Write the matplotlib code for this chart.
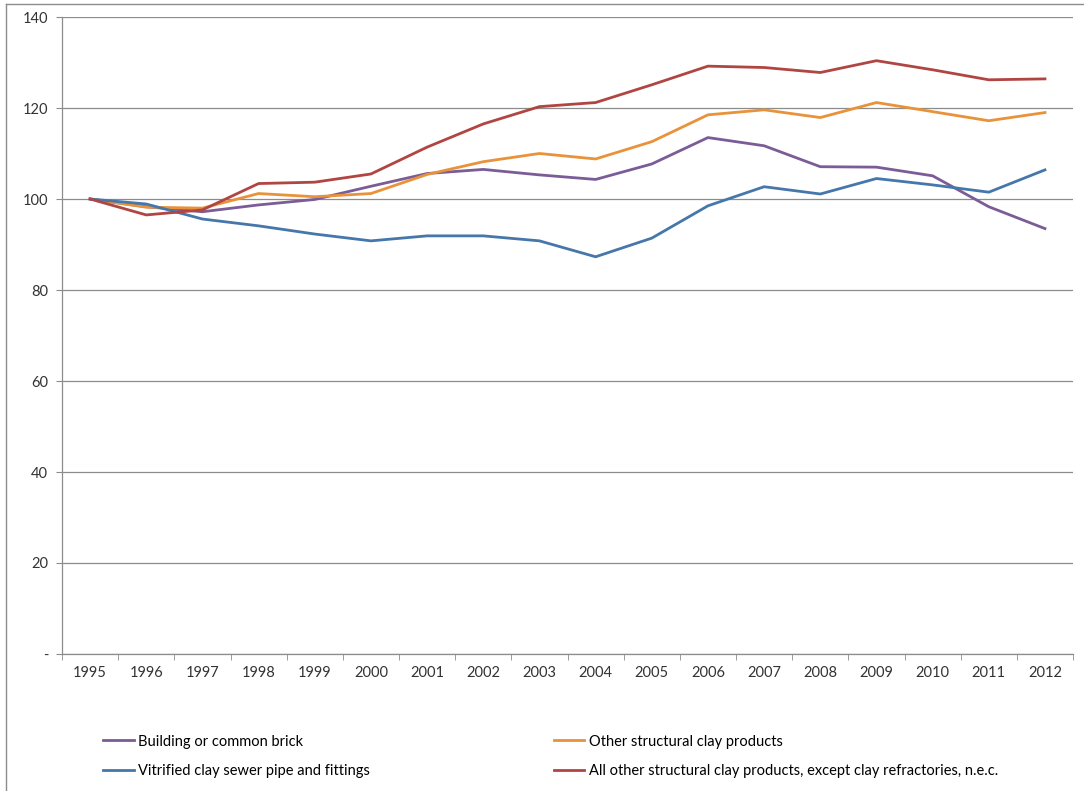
import matplotlib
matplotlib.use("Agg")
import matplotlib.pyplot as plt
import numpy as np
from matplotlib.lines import Line2D

years = ["1995", "1996", "1997", "1998", "1999", "2000", "2001", "2002", "2003",
         "2004", "2005", "2006", "2007", "2008", "2009", "2010", "2011", "2012"]

brick = [100, 98.3, 97.2, 98.7, 99.9, 102.8, 105.6, 106.5, 105.3,
         104.3, 107.7, 113.5, 111.7, 107.1, 107.0, 105.1, 98.3, 93.5]
other = [100, 98.2, 98.0, 101.2, 100.5, 101.2, 105.4, 108.2, 110.0,
         108.8, 112.6, 118.5, 119.6, 117.9, 121.2, 119.2, 117.2, 119.0]
sewer = [100, 98.9, 95.6, 94.1, 92.3, 90.8, 91.9, 91.9, 90.8,
         87.3, 91.4, 98.5, 102.7, 101.1, 104.5, 103.1, 101.5, 106.4]
all_other = [100, 96.5, 97.6, 103.4, 103.7, 105.5, 111.4, 116.5, 120.3,
             121.2, 125.1, 129.2, 128.9, 127.8, 130.4, 128.4, 126.2, 126.4]

labels = ["Building or common brick",
          "Other structural clay products",
          "Vitrified clay sewer pipe and fittings",
          "All other structural clay products, except clay refractories, n.e.c."]
colors = ["#7B5C96", "#E8923A", "#4577AB", "#B04542"]

plt.rcParams['font.family'] = ['Lato', 'DejaVu Sans']

fig = plt.figure(figsize=(10.84, 7.91), dpi=100)
ax = fig.add_axes([0.0572, 0.1732, 0.9327, 0.8053])

x = np.arange(len(years))
series = [brick, other, sewer, all_other]
handles = []
for vals, lab, col in zip(series, labels, colors):
    h, = ax.plot(x, vals, color=col, linewidth=2.0, label=lab, zorder=3)
    handles.append(h)

ax.set_xlim(-0.5, len(years) - 0.5)
ax.set_ylim(0, 140)
yt = np.arange(0, 141, 20)
ax.set_yticks(yt)
ax.set_yticklabels(["-"] + [str(v) for v in yt[1:]], fontsize=10.5, color="#333333")
ax.yaxis.grid(True, color="#8C8C8C", linewidth=0.9, zorder=0)

ax.set_xticks(x)
ax.set_xticklabels(years, fontsize=10.5, color="#333333")
ax.tick_params(axis="x", length=0, pad=9)
ax.set_xticks(np.arange(-0.5, len(years), 1), minor=True)
ax.tick_params(axis="x", which="minor", length=4, color="#8C8C8C", direction="out")
ax.tick_params(axis="y", length=4, color="#8C8C8C", pad=6)

for side in ["top", "right"]:
    ax.spines[side].set_visible(False)
for side in ["left", "bottom"]:
    ax.spines[side].set_color("#8C8C8C")
    ax.spines[side].set_linewidth(0.9)

# legend in two columns below the plot
order = [0, 2, 1, 3]
fig.legend([handles[i] for i in order], [labels[i] for i in order],
           ncol=2, loc="upper left", bbox_to_anchor=(0.083, 0.088),
           frameon=False, fontsize=10.5, handlelength=2.1, handletextpad=0.3,
           columnspacing=12.6, labelspacing=1.05)

# outer chart border (left and top visible)
fig.add_artist(Line2D([0.0055, 0.0055], [0, 0.995], transform=fig.transFigure,
                      color="#8C8C8C", linewidth=1))
fig.add_artist(Line2D([0.0055, 1], [0.995, 0.995], transform=fig.transFigure,
                      color="#8C8C8C", linewidth=1))

fig.savefig("out.png", dpi=100)
